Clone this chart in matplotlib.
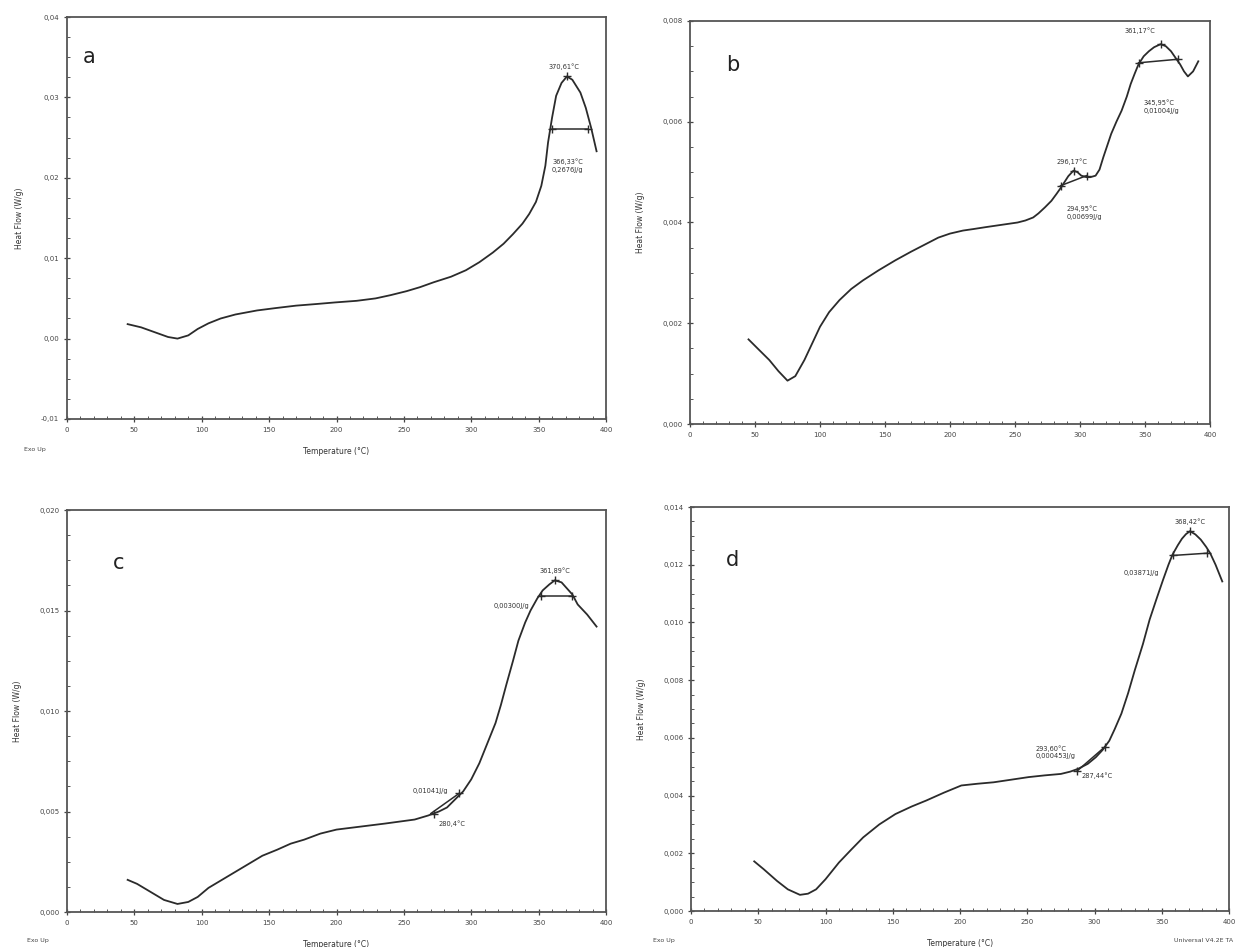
import numpy as np
import matplotlib
matplotlib.use("Agg")
import matplotlib.pyplot as plt
from matplotlib.ticker import MultipleLocator, FuncFormatter

# ---- data ----
temp_a = [45, 55, 65, 75, 82, 90, 97, 105, 114, 125, 141, 155, 170, 185, 199, 215, 229,
          240, 252, 262, 272, 285, 296, 306, 316, 324, 331, 338, 343, 348, 352, 355,
          357, 360, 363, 367, 371, 375, 381, 385, 389, 393]
flow_a = [0.0018, 0.0014, 0.0008, 0.0002, 0.0, 0.0004, 0.0012, 0.0019, 0.0025, 0.0030,
          0.0035, 0.0038, 0.0041, 0.0043, 0.0045, 0.0047, 0.0050, 0.0054, 0.0059, 0.0064,
          0.0070, 0.0077, 0.0085, 0.0095, 0.0107, 0.0118, 0.0130, 0.0143, 0.0155, 0.0170,
          0.0190, 0.0215, 0.0244, 0.0275, 0.0302, 0.0318, 0.0326, 0.0322, 0.0306, 0.0287,
          0.0262, 0.0233]

temp_b = [45, 52, 61, 68, 75, 81, 88, 94, 100, 107, 115, 124, 133, 145, 158, 170, 182,
          191, 200, 210, 218, 228, 236, 244, 252, 258, 264, 268, 273, 278, 282, 285, 288,
          291, 295, 298, 301, 305, 308, 312, 315, 318, 321, 324, 328, 332, 336, 339, 342,
          345, 349, 353, 357, 362, 366, 370, 374, 377, 380, 383, 387, 391]
flow_b = [0.00168, 0.00150, 0.00127, 0.00105, 0.00086, 0.00095, 0.00127, 0.00160, 0.00193,
          0.00222, 0.00246, 0.00268, 0.00285, 0.00305, 0.00325, 0.00342, 0.00358, 0.00370,
          0.00378, 0.00384, 0.00387, 0.00391, 0.00394, 0.00397, 0.00400, 0.00404, 0.00410,
          0.00418, 0.00430, 0.00443, 0.00457, 0.00468, 0.00480, 0.00492, 0.00503, 0.00500,
          0.00493, 0.00490, 0.00490, 0.00493, 0.00505, 0.00530, 0.00553, 0.00576, 0.00600,
          0.00622, 0.00650, 0.00675, 0.00695, 0.00714, 0.00730, 0.00740, 0.00748, 0.00754,
          0.00750, 0.00740, 0.00725, 0.00714, 0.00700, 0.00690, 0.00700, 0.00720]

temp_c = [45, 52, 62, 72, 82, 90, 97, 105, 115, 125, 135, 145, 156, 166, 176, 188, 200,
          212, 224, 236, 247, 258, 268, 276, 282, 288, 294, 300, 306, 312, 318, 322, 326,
          331, 335, 340, 344, 349, 353, 358, 362, 367, 371, 375, 379, 386, 393]
flow_c = [0.0016, 0.0014, 0.0010, 0.0006, 0.0004, 0.0005, 0.00075, 0.0012, 0.0016, 0.0020,
          0.0024, 0.0028, 0.0031, 0.0034, 0.0036, 0.0039, 0.0041, 0.0042, 0.0043, 0.0044,
          0.0045, 0.0046, 0.0048, 0.0050, 0.0052, 0.0056, 0.0060, 0.0066, 0.0074, 0.0084,
          0.0094, 0.0103, 0.0113, 0.0125, 0.0135, 0.0144, 0.0150, 0.0156, 0.0160, 0.0163,
          0.0165, 0.0164, 0.0161, 0.0158, 0.0153, 0.0148, 0.0142]

temp_d = [47, 54, 64, 72, 81, 87, 93, 100, 110, 119, 128, 140, 152, 164, 175, 188, 201,
          213, 225, 238, 251, 263, 275, 282, 288, 295, 301, 306, 311, 315, 320, 325, 330,
          336, 341, 346, 351, 355, 358, 362, 365, 368, 371, 375, 379, 383, 386, 390, 395]
flow_d = [0.00172, 0.00145, 0.00104, 0.00075, 0.00056, 0.00060, 0.00075, 0.00110, 0.00168,
          0.00212, 0.00255, 0.00300, 0.00336, 0.00362, 0.00383, 0.00410, 0.00435, 0.00441,
          0.00446, 0.00455, 0.00464, 0.00470, 0.00475, 0.00483, 0.00493, 0.00510, 0.00533,
          0.00558, 0.00590, 0.00630, 0.00684, 0.00755, 0.00835, 0.00925, 0.01010, 0.01080,
          0.01148, 0.01200, 0.01235, 0.01268, 0.01290, 0.01306, 0.01316, 0.01305, 0.01287,
          0.01262, 0.01240, 0.01200, 0.01142]

# integration baselines (start/end temperature, start/end heat flow)
base_a = [(360, 387, 0.0261, 0.0261)]
base_b = [(285, 305, 0.00473, 0.00493), (345, 375, 0.00717, 0.00724)]
base_c = [(352, 375, 0.0157, 0.0157), (270, 291, 0.0049, 0.0059)]
base_d = [(358, 384, 0.01232, 0.01240), (287, 308, 0.00485, 0.00570)]

# peak / limit markers
marks_a = [(371, 0.0326), (360, 0.0261), (387, 0.0261)]
marks_b = [(295, 0.00503), (285, 0.00473), (305, 0.00493),
           (362, 0.00754), (345, 0.00717), (375, 0.00724)]
marks_c = [(362, 0.0165), (352, 0.0157), (375, 0.0157), (272, 0.0049), (291, 0.0059)]
marks_d = [(371, 0.01316), (358, 0.01232), (384, 0.0124), (287, 0.00485), (308, 0.0057)]

# annotation texts: (text, x, y, ha)
notes_a = [("370,61°C", 369, 0.0338, "center"),
           ("366,33°C\n0,2676J/g", 360, 0.0215, "left")]
notes_b = [("361,17°C", 346, 0.0078, "center"),
           ("345,95°C\n0,01004J/g", 349, 0.0063, "left"),
           ("296,17°C", 294, 0.0052, "center"),
           ("294,95°C\n0,00699J/g", 290, 0.0042, "left")]
notes_c = [("361,89°C", 362, 0.0170, "center"),
           ("0,00300J/g", 343, 0.0152, "right"),
           ("0,01041J/g", 283, 0.0060, "right"),
           ("280,4°C", 276, 0.0044, "left")]
notes_d = [("368,42°C", 371, 0.0135, "center"),
           ("0,03871J/g", 348, 0.0117, "right"),
           ("293,60°C\n0,000453J/g", 256, 0.0055, "left"),
           ("287,44°C", 290, 0.0047, "left")]

panels = [
    dict(tag="a", t=temp_a, f=flow_a, base=base_a, marks=marks_a, notes=notes_a,
         ylim=(-0.01, 0.04), major=0.01, minor=0.0025, dec=2,
         rect=(67, 17, 606, 419), xlabel=True, exo=(-0.08, -0.075), tagpos=(0.03, 0.90)),
    dict(tag="b", t=temp_b, f=flow_b, base=base_b, marks=marks_b, notes=notes_b,
         ylim=(0.0, 0.008), major=0.002, minor=0.0005, dec=3,
         rect=(690, 21, 1210, 424), xlabel=False, exo=None, tagpos=(0.07, 0.89)),
    dict(tag="c", t=temp_c, f=flow_c, base=base_c, marks=marks_c, notes=notes_c,
         ylim=(0.0, 0.02), major=0.005, minor=0.00125, dec=3,
         rect=(67, 510, 606, 912), xlabel=True, exo=(-0.075, -0.07), tagpos=(0.085, 0.868)),
    dict(tag="d", t=temp_d, f=flow_d, base=base_d, marks=marks_d, notes=notes_d,
         ylim=(0.0, 0.014), major=0.002, minor=0.0005, dec=3,
         rect=(691, 507, 1229, 911), xlabel=True, exo=(-0.07, -0.072), tagpos=(0.065, 0.87)),
]


def comma_fmt(dec):
    def f(v, pos):
        if abs(v) < 1e-12:
            v = 0.0
        return f"{v:.{dec}f}".replace(".", ",")
    return FuncFormatter(f)


W, H = 1236, 947
fig = plt.figure(figsize=(W / 100, H / 100), dpi=100)
plt.rcParams['font.family'] = ['DejaVu Sans']
ink = "#2b2b2b"

for p in panels:
    x0, y0, x1, y1 = p["rect"]
    ax = fig.add_axes([x0 / W, (H - y1) / H, (x1 - x0) / W, (y1 - y0) / H])
    ax.plot(p["t"], p["f"], color=ink, lw=1.3)
    for ta, tb, fa, fb in p["base"]:
        ax.plot([ta, tb], [fa, fb], color=ink, lw=1.1)
    mx = [m[0] for m in p["marks"]]
    my = [m[1] for m in p["marks"]]
    ax.plot(mx, my, ls="none", marker="+", ms=6, mew=1.0, color=ink)
    for txt, tx, ty, ha in p["notes"]:
        ax.text(tx, ty, txt, fontsize=4.8, ha=ha, va="center", color="#333333",
                linespacing=1.3)

    ax.set_xlim(0, 400)
    ax.set_ylim(*p["ylim"])
    ax.xaxis.set_major_locator(MultipleLocator(50))
    ax.xaxis.set_minor_locator(MultipleLocator(10))
    ax.yaxis.set_major_locator(MultipleLocator(p["major"]))
    ax.yaxis.set_minor_locator(MultipleLocator(p["minor"]))
    ax.yaxis.set_major_formatter(comma_fmt(p["dec"]))
    ax.tick_params(axis="both", which="major", direction="inout", length=5, width=0.9,
                   labelsize=5, colors="#444444", pad=3)
    ax.tick_params(axis="both", which="minor", direction="in", length=2.5, width=0.7,
                   colors="#555555")
    for s in ax.spines.values():
        s.set_color("#555555")
        s.set_linewidth(1.3)

    ax.set_ylabel("Heat Flow (W/g)", fontsize=5.5, color="#333333", labelpad=12)
    if p["xlabel"]:
        ax.set_xlabel("Temperature (°C)", fontsize=5.5, color="#333333", labelpad=10)
    if p["exo"] is not None:
        ax.text(*p["exo"], "Exo Up", transform=ax.transAxes, fontsize=4.5,
                color="#444444", ha="left", va="center")
    ax.text(*p["tagpos"], p["tag"], transform=ax.transAxes, fontsize=15,
            color="#222222", ha="left", va="center")

# instrument footer on the last panel
fig.text(1 - 0.002, (H - 940) / H, "Universal V4.2E TA", fontsize=4.5,
         color="#444444", ha="right", va="center")

fig.savefig("out.png", dpi=100, facecolor="white")
